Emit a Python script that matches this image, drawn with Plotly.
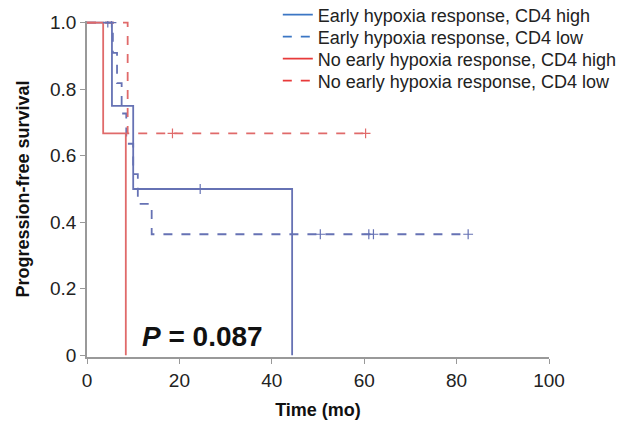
import plotly.graph_objects as go

# Kaplan-Meier step curves (time in months, progression-free survival)
eh_high_t = [0, 5.4, 10.0, 44.4]
eh_high_s = [1.0, 0.75, 0.5, 0.0]
eh_high_cens_t = [24.5]
eh_high_cens_s = [0.5]

eh_low_t = [0, 5.6, 6.5, 7.5, 8.5, 10.0, 11.0, 14.0, 82.5]
eh_low_s = [1.0, 0.909, 0.818, 0.727, 0.636, 0.545, 0.455, 0.364, 0.364]
eh_low_cens_t = [4.5, 5.3, 50.5, 61.0, 62.0, 82.5]
eh_low_cens_s = [1.0, 1.0, 0.364, 0.364, 0.364, 0.364]

neh_high_t = [0, 3.5, 8.4]
neh_high_s = [1.0, 0.667, 0.0]

neh_low_t = [0, 8.8, 60.3]
neh_low_s = [1.0, 0.667, 0.667]
neh_low_cens_t = [18.5, 60.3]
neh_low_cens_s = [0.667, 0.667]

legend_names = [
    "Early hypoxia response, CD4 high",
    "Early hypoxia response, CD4 low",
    "No early hypoxia response, CD4 high",
    "No early hypoxia response, CD4 low",
]

x_ticks = [0, 20, 40, 60, 80, 100]
y_ticks = [0, 0.2, 0.4, 0.6, 0.8, 1.0]
y_tick_text = ["0", "0.2", "0.4", "0.6", "0.8", "1.0"]

p_text = "<b><i>P</i> = 0.087</b>"

BLUE = "#6672b4"
RED = "#e06a6a"
LEG_BLUE = "#3b76c4"
LEG_RED = "#e83a3a"
FONT = "Liberation Sans, Arial"
H = 429

fig = go.Figure()

curves = [
    (eh_high_t, eh_high_s, BLUE, "solid"),
    (eh_low_t, eh_low_s, BLUE, "dash"),
    (neh_high_t, neh_high_s, RED, "solid"),
    (neh_low_t, neh_low_s, RED, "dash"),
]
for t, s, c, d in curves:
    fig.add_trace(go.Scatter(x=t, y=s, mode="lines", line=dict(color=c, width=1.8, dash=d, shape="hv"),
                             showlegend=False, hoverinfo="skip"))

censors = [
    (eh_high_cens_t, eh_high_cens_s, BLUE),
    (eh_low_cens_t, eh_low_cens_s, BLUE),
    (neh_low_cens_t, neh_low_cens_s, RED),
]
for t, s, c in censors:
    fig.add_trace(go.Scatter(x=t, y=s, mode="markers",
                             marker=dict(symbol="cross-thin-open", size=7, color=c,
                                         line=dict(color=c, width=1.2)),
                             showlegend=False, hoverinfo="skip"))

# one legend per entry so the row spacing can be set freely
legend_ids = ["legend", "legend2", "legend3", "legend4"]
row_px = [15, 37, 59, 81]
legend_layout = {}
for name, c, d, lid, py in zip(legend_names, [LEG_BLUE, LEG_BLUE, LEG_RED, LEG_RED],
                               ["solid", "dash", "solid", "dash"], legend_ids, row_px):
    fig.add_trace(go.Scatter(x=[None], y=[None], mode="lines", name=name, legend=lid,
                             line=dict(color=c, width=1.8, dash=d)))
    legend_layout[lid] = dict(x=0.413, y=1 - py / H, xref="paper", yref="container",
                              xanchor="left", yanchor="middle",
                              font=dict(family=FONT, size=18, color="#222"),
                              bgcolor="rgba(0,0,0,0)", itemwidth=30)

fig.add_annotation(x=25.0, y=0.058, text=p_text, showarrow=False,
                   font=dict(family=FONT, size=28, color="#111"),
                   xanchor="center", yanchor="middle")

axis_font = dict(family=FONT, size=19, color="#222")
fig.update_layout(
    width=640, height=H,
    margin=dict(l=87, r=91, t=21, b=72, autoexpand=False),
    paper_bgcolor="white", plot_bgcolor="white",
    font=dict(family=FONT, color="#222"),
    xaxis=dict(range=[0, 100], tickvals=x_ticks, showgrid=False, zeroline=False,
               showline=True, linecolor="#999", linewidth=1.5, ticks="outside",
               ticklen=5, tickcolor="#999", tickfont=axis_font,
               title=dict(text="<b>Time (mo)</b>", font=dict(size=18, color="#111"), standoff=14)),
    yaxis=dict(range=[-0.005, 1.005], tickvals=y_ticks, ticktext=y_tick_text, showgrid=False,
               zeroline=False, showline=True, linecolor="#999", linewidth=1.5, ticks="outside",
               ticklen=5, tickcolor="#999", tickfont=axis_font,
               title=dict(text="<b>Progression-free survival</b>", font=dict(size=18, color="#111"),
                          standoff=16)),
    **legend_layout,
)

fig.write_html("out.html")
